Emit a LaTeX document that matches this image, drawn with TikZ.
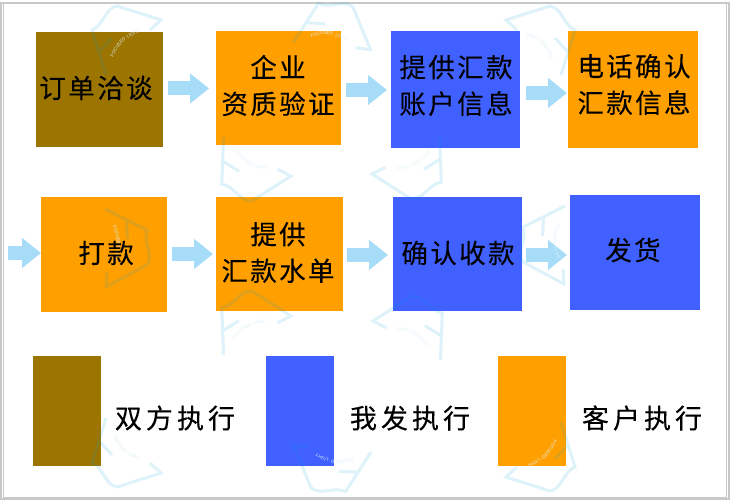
\documentclass[tikz,border=0pt]{standalone}
\usepackage{fontspec}
\newfontfamily\cjk[LetterSpace=9,FakeBold=0.12]{Noto Sans CJK SC}
\newfontfamily\cjklegend[LetterSpace=15,FakeBold=0.12]{Noto Sans CJK SC}
\newfontfamily\wmfont[LetterSpace=25]{Liberation Sans}
\usetikzlibrary{arrows.meta,calc,decorations.text}
\definecolor{brownc}{RGB}{156,116,0}
\definecolor{orangec}{RGB}{255,160,0}
\definecolor{bluec}{RGB}{64,96,255}
\definecolor{arrowc}{RGB}{166,220,248}
\definecolor{framec}{RGB}{200,200,200}
\definecolor{wmc}{RGB}{0,155,222}
\definecolor{wmtext}{RGB}{222,240,248}
\tikzset{
  x=1pt,y=-1pt,
  box/.style={inner sep=0pt,outer sep=0pt,minimum width=#1},
  brownbox/.style={box=#1,fill=brownc},
  bluebox/.style={box=#1,fill=bluec},
  orangebox/.style={box=#1,fill=orangec},
  label/.style={inner sep=0pt,align=center,font=\fontsize{26.5pt}{36.5pt}\selectfont\cjk,text=black},
  legendlabel/.style={inner sep=0pt,font=\fontsize{27pt}{30pt}\selectfont\cjklegend,text=black},
  flow/.style={draw=arrowc,line width=14pt,-{Triangle[length=19pt,width=29pt,fill=arrowc]}},
  frameline/.style={draw=framec},
  wmline/.style={draw=wmc,opacity=.13,line width=3pt,line join=miter,fill=none},
  wmarc/.style={decorate,decoration={text along path,text align=center,
    text={|\fontsize{4.5pt}{5pt}\selectfont\wmfont\color{wmtext}|FOCUSED LIGHT}}},
  logo/.pic={
    \draw[wmline] (-19,35) -- (-33,-10) .. controls (-22,-14) and (-20,-32) .. (-8,-34) -- (36,-20) -- (25,-10)
      (-26,12) -- (-13,-2);
    \path[wmarc] (-14,25) .. controls (-10,5) and (5,-8) .. (23,-8);
  }
}
\begin{document}
\begin{tikzpicture}
\useasboundingbox (0,0) rectangle (730,500);
\fill[white] (0,0) rectangle (730,500);
% frame
\draw[frameline,line width=2pt] (1,3) rectangle (729,499);
\draw[frameline,line width=1pt] (3.5,3.5) rectangle (726.5,497);
% boxes, row 1
\node[brownbox=127pt,minimum height=115pt] (n1) at (99.5,89.5) {};
\node[orangebox=125pt,minimum height=114pt] (n2) at (278.5,88) {};
\node[bluebox=129pt,minimum height=117pt] (n3) at (455.5,89.5) {};
\node[orangebox=130pt,minimum height=117pt] (n4) at (633,89.5) {};
% boxes, row 2
\node[orangebox=126pt,minimum height=115pt] (n5) at (104,254.5) {};
\node[orangebox=127pt,minimum height=114pt] (n6) at (279.5,254) {};
\node[bluebox=129pt,minimum height=114pt] (n7) at (457.5,254) {};
\node[bluebox=130pt,minimum height=115pt] (n8) at (635,252.5) {};
% legend
\node[brownbox=68pt,minimum height=110pt] (k1) at (67,411) {};
\node[bluebox=68pt,minimum height=110pt] (k2) at (300,411) {};
\node[orangebox=68pt,minimum height=110pt] (k3) at (532,411) {};
% connectors
\coordinate (start) at (8,253);
\draw[flow] ($(n1.east)+(5,-1)$) -- ($(n2.west)+(-7,.5)$);
\draw[flow] ($(n2.east)+(5,2)$) -- ($(n3.west)+(-4,.5)$);
\draw[flow] ($(n3.east)+(6,3.5)$) -- ($(n4.west)+(-1,3.5)$);
\draw[flow] (start) -- ($(n5.west)+(0,-1.5)$);
\draw[flow] ($(n5.east)+(5,-.5)$) -- ($(n6.west)+(-3,0)$);
\draw[flow] ($(n6.east)+(4,1)$) -- ($(n7.west)+(-5,1)$);
\draw[flow] ($(n7.east)+(4,1)$) -- ($(n8.west)+(-3,2.5)$);
% watermark
\pic at (125,40) {logo};
\pic[rotate=-50] at (332,35) {logo};
\pic[xscale=-1] at (542,40) {logo};
\pic[rotate=15,yscale=-1] at (251,166) {logo};
\pic[rotate=-15,xscale=-1,yscale=-1] at (412,164) {logo};
\pic[rotate=-134] at (117,247) {logo};
\pic[rotate=134,xscale=-1] at (553,244) {logo};
\pic[rotate=-15] at (251,326) {logo};
\pic[rotate=15,xscale=-1] at (413,331) {logo};
\pic[yscale=-1] at (125,453) {logo};
\pic[rotate=130] at (332,460) {logo};
\pic[rotate=180] at (542,457) {logo};
% labels
\node[label] (t1) at (96,88) {订单洽谈};
\node[label] (t2) at (278,85.5) {企业\\资质验证};
\node[label] (t3) at (456,85.5) {提供汇款\\账户信息};
\node[label] (t4) at (634,84.5) {电话确认\\汇款信息};
\node[label] (t5) at (106,253) {打款};
\node[label] (t6) at (278,252.5) {提供\\汇款水单};
\node[label] (t7) at (458,253) {确认收款};
\node[label] (t8) at (633,250) {发货};
\node[legendlabel] (l1) at (175,418) {双方执行};
\node[legendlabel] (l2) at (410,418) {我发执行};
\node[legendlabel] (l3) at (642,418) {客户执行};
\end{tikzpicture}
\end{document}
